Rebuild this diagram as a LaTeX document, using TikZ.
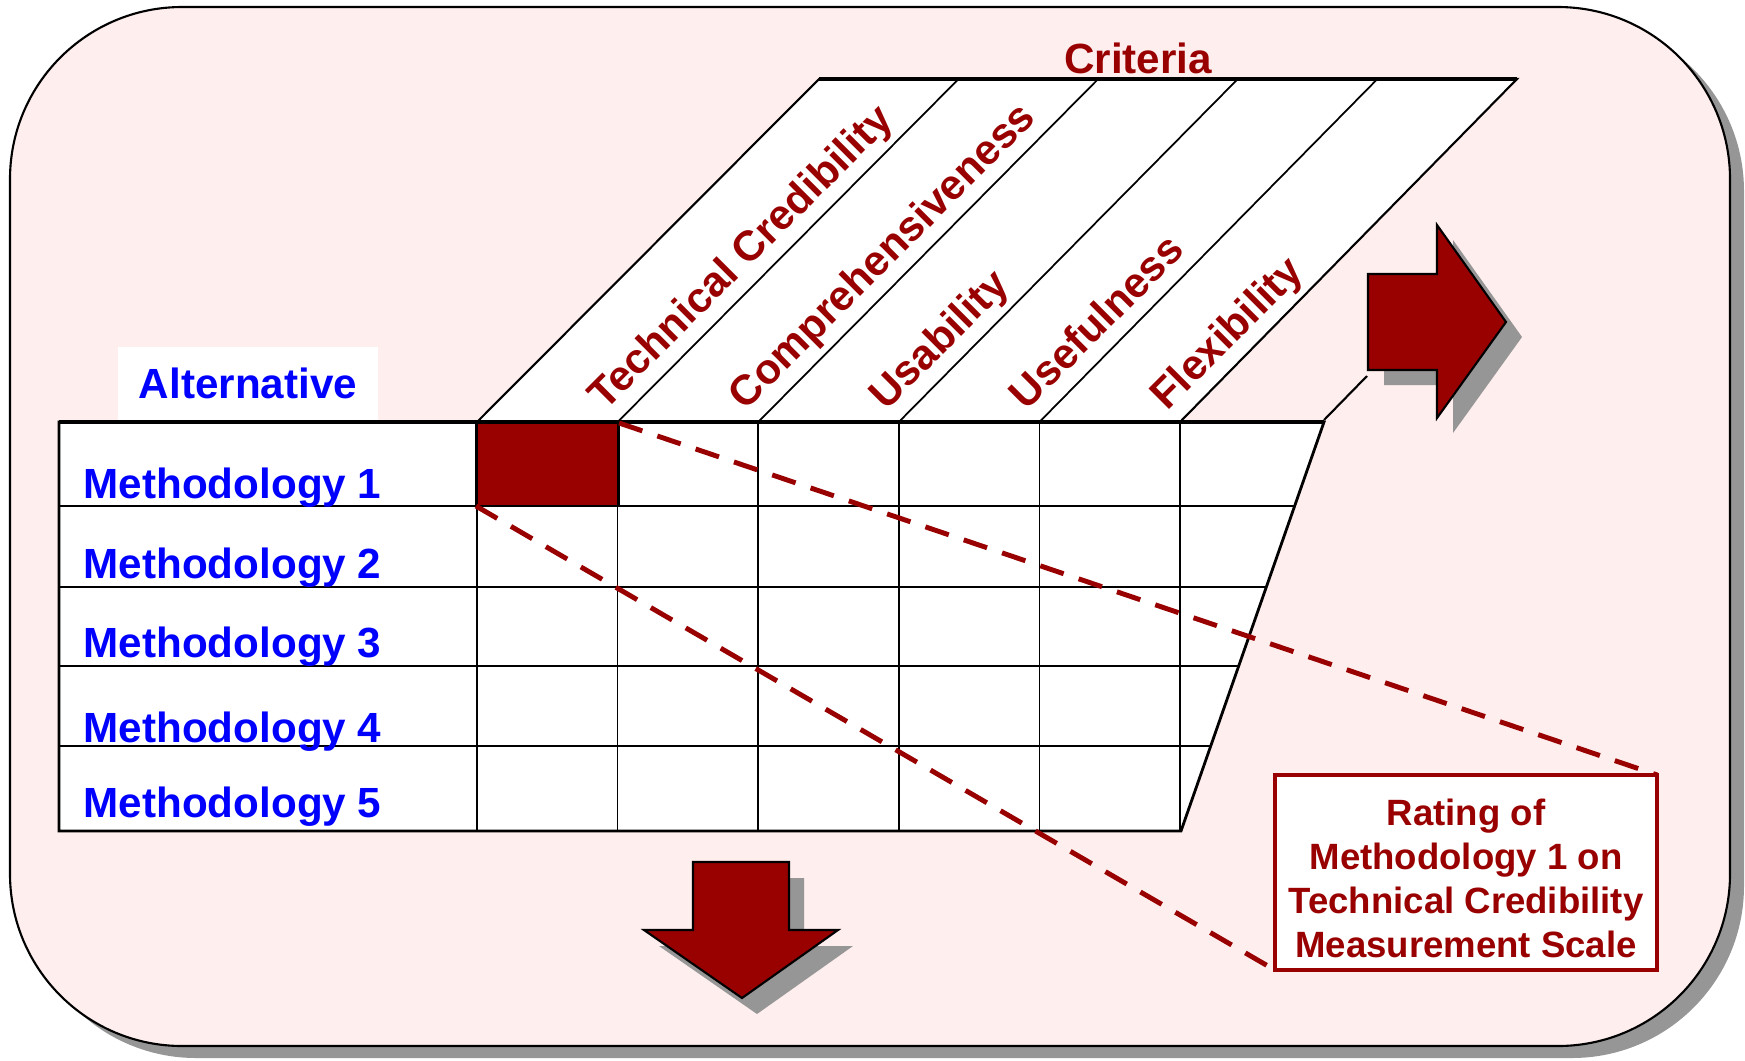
\documentclass[tikz,border=0pt]{standalone}
\usepackage{fontspec}
\setmainfont{Liberation Sans}
\usetikzlibrary{positioning}
\definecolor{darkred}{RGB}{153,0,0}
\definecolor{bgpink}{RGB}{255,238,238}
\definecolor{shadowgray}{RGB}{150,150,150}
\definecolor{labelblue}{RGB}{0,0,255}
\begin{document}
\begin{tikzpicture}[x=0.01cm, y=-0.01cm,
    gridline/.style = {line width=0.5pt},
    bigarrow/.style = {draw=black, line width=0.6pt, fill=darkred},
    dashline/.style = {darkred, line width=1.4pt, dash pattern=on 7pt off 4.5pt},
    methlabel/.style = {anchor=base west, inner sep=0pt, text=labelblue,
                        font=\bfseries\fontsize{12}{14}\selectfont},
    critlabel/.style = {anchor=base west, inner sep=0pt, rotate=45, text=darkred,
                        font=\bfseries\fontsize{12}{14}\selectfont},
    ratedcell/.style = {draw=black, line width=0.5pt, fill=darkred, inner sep=0pt,
                        outer sep=0pt, minimum width=1.43cm, minimum height=0.83cm},
    ratingbox/.style = {draw=darkred, line width=1.2pt, fill=white, text=darkred,
                        align=center, inner sep=0pt, outer sep=0pt,
                        minimum width=3.82cm, minimum height=1.95cm,
                        font=\bfseries\fontsize{10.4}{12.5}\selectfont}]
    \useasboundingbox (0,0) rectangle (1745,1060);

    % background panel
    \fill[shadowgray, rounded corners=1.72cm] (24,19) rectangle (1744,1058);
    \draw[fill=bgpink, line width=0.6pt, rounded corners=1.72cm]
        (10,7) rectangle (1730,1046);

    % criteria header
    \draw[fill=white, line width=0.6pt]
        (477,422) -- (819,79) -- (1517,79) -- (1180,422);
    \draw[line width=0.9pt] (819,79) -- (1517,79);
    \foreach \i in {1,...,4}
        \draw[gridline] ({477+140.6*\i},422) -- ({819+139.6*\i},79);
    \node[anchor=base, inner sep=0pt, text=darkred,
          font=\bfseries\fontsize{12}{14}\selectfont] (criteria) at (1138,73) {Criteria};
    \foreach \name [count=\i from 0] in {Technical Credibility, Comprehensiveness,
                                         Usability, Usefulness, Flexibility}
        \node[critlabel] (crit\i) at ({604.6+140.6*\i},412) {\name};

    % table
    \draw[fill=white, line width=0.8pt]
        (59,422) -- (1324,422) -- (1181,831) -- (59,831) -- cycle;
    \node[ratedcell] (cell) at (547.5,464.5) {};
    \foreach \y in {506,587,666,746}
        \draw[gridline] (59,\y) -- ({1324-0.3505*(\y-422)},\y);
    \foreach \i in {0,...,5}
        \draw[gridline] ({477+140.6*\i},422) -- ({477+140.6*\i},831);
    \draw[line width=1.3pt] (59,422) -- (1324,422);

    \node[fill=white, text=labelblue, inner sep=0pt, minimum width=2.6cm,
          minimum height=0.73cm, font=\bfseries\fontsize{12}{14}\selectfont]
        (alt) at (248,383.5) {Alternative};
    \foreach \i/\yb in {1/498, 2/578, 3/657, 4/742, 5/817}
        \node[methlabel] (meth\i) at (83,\yb) {Methodology \i};

    % rating callout
    \node[ratingbox] (rating) at (1466,872.5)
        {\rule{0pt}{0.38cm}Rating of\\Methodology 1 on\\Technical Credibility\\Measurement Scale};
    \draw[dashline] (cell.north east) -- (rating.north east);
    \draw[dashline] (cell.south west) -- (rating.south west);

    % arrows
    \coordinate (tabNE) at (1324,420);
    \coordinate (arrowfoot) at (1367,376);
    \draw[line width=0.6pt] (tabNE) -- (arrowfoot);
    \fill[shadowgray, shift={(16,15)}]
        (1368,274) -- (1437,274) -- (1437,225) -- (1506,322)
        -- (1437,418) -- (1437,370) -- (1368,370) -- cycle;
    \draw[bigarrow]
        (1368,274) -- (1437,274) -- (1437,225) -- (1506,322)
        -- (1437,418) -- (1437,370) -- (1368,370) -- cycle;
    \fill[shadowgray, shift={(15,16)}]
        (693,862) -- (789,862) -- (789,930) -- (838,930)
        -- (742,998) -- (644,930) -- (693,930) -- cycle;
    \draw[bigarrow]
        (693,862) -- (789,862) -- (789,930) -- (838,930)
        -- (742,998) -- (644,930) -- (693,930) -- cycle;
\end{tikzpicture}
\end{document}
